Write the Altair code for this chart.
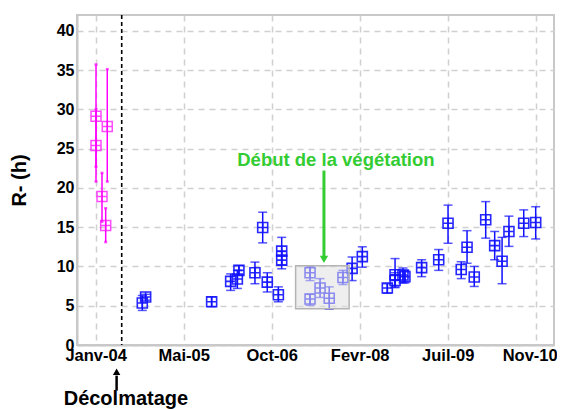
import altair as alt
import pandas as pd

# ---- data (x = days since 15 Jan 2004) ----
mag_jours = [2, 2, 36, 57, 66]
mag_val = [29.1, 25.4, 18.9, 15.2, 27.8]
mag_bas = [22.7, 20.8, 15.7, 13.1, 20.8]
mag_haut = [35.7, 30.0, 21.9, 17.4, 35.1]

bleu_jours = [265, 284, 659, 767, 805, 814, 905, 949, 975, 1038, 1057, 1057,
              1218, 1218, 1275, 1327, 1405, 1457, 1515, 1657, 1701, 1701, 1746, 1757,
              1852, 1949, 2002, 2077, 2110, 2151, 2216, 2267, 2309, 2348, 2432, 2500]
bleu_val = [5.35, 6.1, 5.5, 8.1, 8.4, 9.5, 9.2, 14.95, 8.0, 6.4, 11.95, 10.8,
            9.2, 5.85, 7.25, 5.95, 8.6, 9.75, 11.25, 7.25, 8.95, 8.2, 8.9, 8.7,
            9.85, 10.85, 15.5, 9.6, 12.45, 8.65, 15.95, 12.65, 10.65, 14.45, 15.5, 15.6]
bleu_bas = [4.4, 5.7, 4.9, 6.95, 7.2, 8.9, 7.8, 13.0, 6.75, 5.5, 10.2, 9.7,
            8.2, 5.05, 6.05, 4.55, 7.7, 8.2, 9.9, 6.6, 7.4, 7.3, 7.9, 7.9,
            8.7, 9.5, 12.95, 8.45, 10.4, 7.45, 13.6, 10.85, 7.8, 12.55, 13.8, 13.5]
bleu_haut = [6.3, 6.45, 6.1, 9.05, 9.5, 10.1, 10.55, 16.9, 9.2, 7.4, 13.7, 11.9,
             10.0, 6.45, 8.45, 7.4, 9.5, 11.2, 12.5, 7.8, 11.0, 9.2, 9.8, 9.5,
             10.85, 12.15, 17.8, 10.6, 14.55, 10.0, 18.25, 14.45, 13.7, 16.4, 17.2, 17.6]

tick_jours = [0, 500, 1000, 1500, 2000, 2500]
tick_labels = ["Janv-04", "Mai-05", "Oct-06", "Fevr-08", "Juil-09", "Nov-10"]

decolmatage_jour = [148]
veg_box = {"x": [1136], "x2": [1440], "y": [4.6], "y2": [10.1]}

# annotations (data units)
veg_text = {"x": [1365], "y": [22.8], "t": ["Début de la végétation"]}
veg_arrow = {"x": [1297], "y": [22.2], "y2": [11.3], "yh": [10.9]}
dec_text = {"x": [172], "y": [-7.6], "t": ["Décolmatage"]}
dec_arrow = {"x": [119], "y": [-5.8], "y2": [-3.9], "yh": [-3.4]}

X_DOM = [-106, 2604]
Y_DOM = [0, 42]
FONT = "Liberation Sans"

mag = pd.DataFrame({"x": mag_jours, "v": mag_val, "lo": mag_bas, "hi": mag_haut})
bleu = pd.DataFrame({"x": bleu_jours, "v": bleu_val, "lo": bleu_bas, "hi": bleu_haut})

label_expr = ""
for v, l in zip(tick_jours, tick_labels):
    label_expr += f"datum.value == {v} ? '{l}' : "
label_expr += "''"

xs = alt.Scale(domain=X_DOM, nice=False, zero=False)
ys = alt.Scale(domain=Y_DOM, nice=False)

x_axis = alt.Axis(values=tick_jours, labelExpr=label_expr, title=None, grid=True,
                  gridDash=[6, 5], gridColor="#d0d0d0", gridWidth=1.5, ticks=False,
                  domainColor="#c8c8c8", domainWidth=2, labelFont=FONT, labelFontSize=16.5,
                  labelFontWeight="bold", labelColor="black", labelPadding=2,
                  labelOffset=alt.condition(f"datum.value == {tick_jours[-1]}",
                                            alt.value(-6), alt.value(0)),
                  labelFlush=False, labelOverlap=False)
y_axis = alt.Axis(values=[0, 5, 10, 15, 20, 25, 30, 35, 40], title="R- (h)", grid=True,
                  gridDash=[6, 5], gridColor="#d0d0d0", gridWidth=1.5, ticks=False,
                  domainColor="#c8c8c8", domainWidth=2, labelFont=FONT, labelFontSize=16,
                  labelFontWeight="bold", labelColor="black", labelPadding=3,
                  titleFont=FONT, titleFontSize=20, titleFontWeight="bold",
                  titleColor="black", titlePadding=27)

shape_path = "M-1,-1L1,-1L1,1L-1,1Z M0,-1L0,1 M-1,0L1,0"

base_dec = alt.Chart(pd.DataFrame({"x": decolmatage_jour})).mark_rule(
    color="black", strokeDash=[4, 3], strokeWidth=1.6
).encode(x=alt.X("x:Q", scale=xs, axis=x_axis))

bleu_base = alt.Chart(bleu)
b_rule = bleu_base.mark_rule(color="#1010ff", strokeWidth=1.5).encode(
    x=alt.X("x:Q", scale=xs), y=alt.Y("lo:Q", scale=ys, axis=y_axis), y2="hi:Q")
b_cap_lo = bleu_base.mark_tick(color="#1010ff", orient="horizontal", size=9, thickness=1.5).encode(
    x=alt.X("x:Q", scale=xs), y=alt.Y("lo:Q", scale=ys))
b_cap_hi = bleu_base.mark_tick(color="#1010ff", orient="horizontal", size=9, thickness=1.5).encode(
    x=alt.X("x:Q", scale=xs), y=alt.Y("hi:Q", scale=ys))
b_pts = bleu_base.mark_point(shape=shape_path, size=100, filled=False, color="#1010ff",
                             strokeWidth=1.6, opacity=0.9).encode(
    x=alt.X("x:Q", scale=xs), y=alt.Y("v:Q", scale=ys))

mag_base = alt.Chart(mag)
m_rule = mag_base.mark_rule(color="#ff00ff", strokeWidth=1.5).encode(
    x=alt.X("x:Q", scale=xs), y=alt.Y("lo:Q", scale=ys), y2="hi:Q")
m_cap_lo = mag_base.mark_tick(color="#ff00ff", orient="horizontal", size=3, thickness=2.5).encode(
    x=alt.X("x:Q", scale=xs), y=alt.Y("lo:Q", scale=ys))
m_cap_hi = mag_base.mark_tick(color="#ff00ff", orient="horizontal", size=3, thickness=2.5).encode(
    x=alt.X("x:Q", scale=xs), y=alt.Y("hi:Q", scale=ys))
m_pts = mag_base.mark_point(shape=shape_path, size=100, filled=False, color="#ff00ff",
                            strokeWidth=1.5).encode(
    x=alt.X("x:Q", scale=xs), y=alt.Y("v:Q", scale=ys))

box = alt.Chart(pd.DataFrame(veg_box)).mark_rect(
    fill="#e0e0e0", fillOpacity=0.55, stroke="#b4b4b4", strokeWidth=1.5
).encode(x=alt.X("x:Q", scale=xs), x2="x2:Q", y=alt.Y("y:Q", scale=ys), y2="y2:Q")

g_df = pd.DataFrame(veg_arrow)
g_line = alt.Chart(g_df).mark_rule(color="#33cc33", strokeWidth=3).encode(
    x=alt.X("x:Q", scale=xs), y=alt.Y("y:Q", scale=ys), y2="y2:Q")
g_head = alt.Chart(g_df).mark_point(shape="triangle-down", size=70, filled=True,
                                    color="#33cc33", opacity=1).encode(
    x=alt.X("x:Q", scale=xs), y=alt.Y("yh:Q", scale=ys))
g_text = alt.Chart(pd.DataFrame(veg_text)).mark_text(
    color="#33cc33", font=FONT, fontSize=18.5, fontWeight="bold", align="center",
    baseline="alphabetic").encode(x=alt.X("x:Q", scale=xs), y=alt.Y("y:Q", scale=ys), text="t:N")

k_df = pd.DataFrame(dec_arrow)
k_line = alt.Chart(k_df).mark_rule(color="black", strokeWidth=2.5).encode(
    x=alt.X("x:Q", scale=xs), y=alt.Y("y:Q", scale=ys), y2="y2:Q")
k_head = alt.Chart(k_df).mark_point(shape="triangle-up", size=55, filled=True,
                                    color="black", opacity=1).encode(
    x=alt.X("x:Q", scale=xs), y=alt.Y("yh:Q", scale=ys))
k_text = alt.Chart(pd.DataFrame(dec_text)).mark_text(
    color="black", font=FONT, fontSize=20, fontWeight="bold", align="center",
    baseline="alphabetic").encode(x=alt.X("x:Q", scale=xs), y=alt.Y("y:Q", scale=ys), text="t:N")

chart = alt.layer(
    base_dec, b_rule, b_cap_lo, b_cap_hi, b_pts,
    m_rule, m_cap_lo, m_cap_hi, m_pts,
    box, g_line, g_head, g_text, k_line, k_head, k_text
).properties(
    width=477, height=330,
    autosize=alt.AutoSizeParams(type="none"),
    padding={"left": 69, "top": 7, "right": 3, "bottom": 64},
    background="white"
).configure_view(stroke="#c8c8c8", strokeWidth=2)

chart.save("out.html", embed_options={"renderer": "svg", "actions": False})
